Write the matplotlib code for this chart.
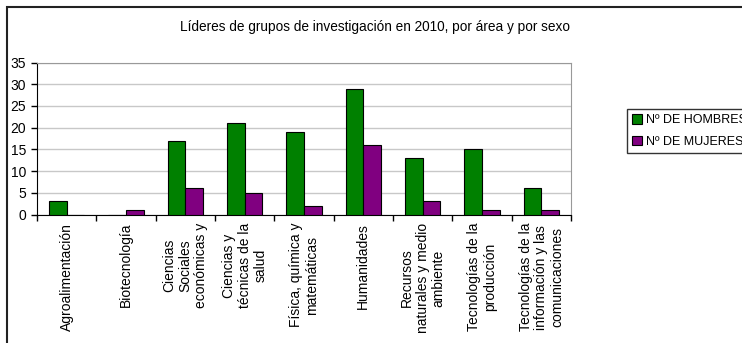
import matplotlib.pyplot as plt
import numpy as np
from matplotlib.patches import Rectangle

plt.rcParams['font.family'] = ['Liberation Sans', 'DejaVu Sans']

areas = ['Agroalimentación', 'Biotecnología', 'Ciencias\nSociales\neconómicas y',
         'Ciencias y\ntécnicas de la\nsalud', 'Física, química y\nmatemáticas',
         'Humanidades', 'Recursos\nnaturales y medio\nambiente',
         'Tecnologías de la\nproducción',
         'Tecnologías de la\ninformación y las\ncomunicaciones']
hombres = [3, 0, 17, 21, 19, 29, 13, 15, 6]
mujeres = [0, 1, 6, 5, 2, 16, 3, 1, 1]

W, H = 742, 343
fig = plt.figure(figsize=(W / 100, H / 100), dpi=100)
ax = fig.add_axes([37 / W, 1 - 214.5 / H, (571 - 37) / W, (214.5 - 62.5) / H])

x = np.arange(len(areas))
bw = 0.3
ax.bar(x - bw / 2, hombres, bw, color='#008000', edgecolor='black', linewidth=0.8,
       label='Nº DE HOMBRES', zorder=3)
ax.bar(x + bw / 2, mujeres, bw, color='#800080', edgecolor='black', linewidth=0.8,
       label='Nº DE MUJERES', zorder=3)

ax.set_xlim(-0.5, len(areas) - 0.5)
ax.set_ylim(0, 35)
ax.set_yticks(range(0, 36, 5))
ax.yaxis.grid(True, color='#c8c8c8', linewidth=1)
ax.set_axisbelow(True)

# etiquetas en el centro, marcas en los bordes de cada categoría
ax.set_xticks(x)
ax.set_xticklabels(areas, rotation=90, va='top', ha='center',
                   multialignment='center', linespacing=1.15)
ax.set_xticks(np.arange(-0.5, len(areas)), minor=True)
ax.tick_params(axis='x', which='major', length=0, pad=6, labelsize=10)
ax.tick_params(axis='x', which='minor', length=4, width=1, direction='out')
ax.tick_params(axis='y', length=4, width=1, labelsize=10, pad=4)

for s in ['top', 'right']:
    ax.spines[s].set_color('#999999')
for s in ['left', 'bottom']:
    ax.spines[s].set_color('black')

fig.text(375 / W, 1 - 27 / H, 'Líderes de grupos de investigación en 2010, por área y por sexo',
         ha='center', va='center', fontsize=9.8)

leg = fig.legend(loc='upper left', bbox_to_anchor=(627 / W, 1 - 109 / H),
                 fontsize=9, frameon=True, fancybox=False, handlelength=0.8,
                 handleheight=0.8, handletextpad=0.35, borderpad=0.4,
                 labelspacing=0.75, borderaxespad=0)
leg.get_frame().set_edgecolor('black')
leg.get_frame().set_linewidth(1)

# marco del área del gráfico
fig.patches.append(Rectangle((7 / W, -0.1), 1.2, 1 - 7 / H + 0.1,
                             transform=fig.transFigure, fill=False,
                             edgecolor='#222222', linewidth=1.5))

fig.savefig('out.png', dpi=100, facecolor='white')
